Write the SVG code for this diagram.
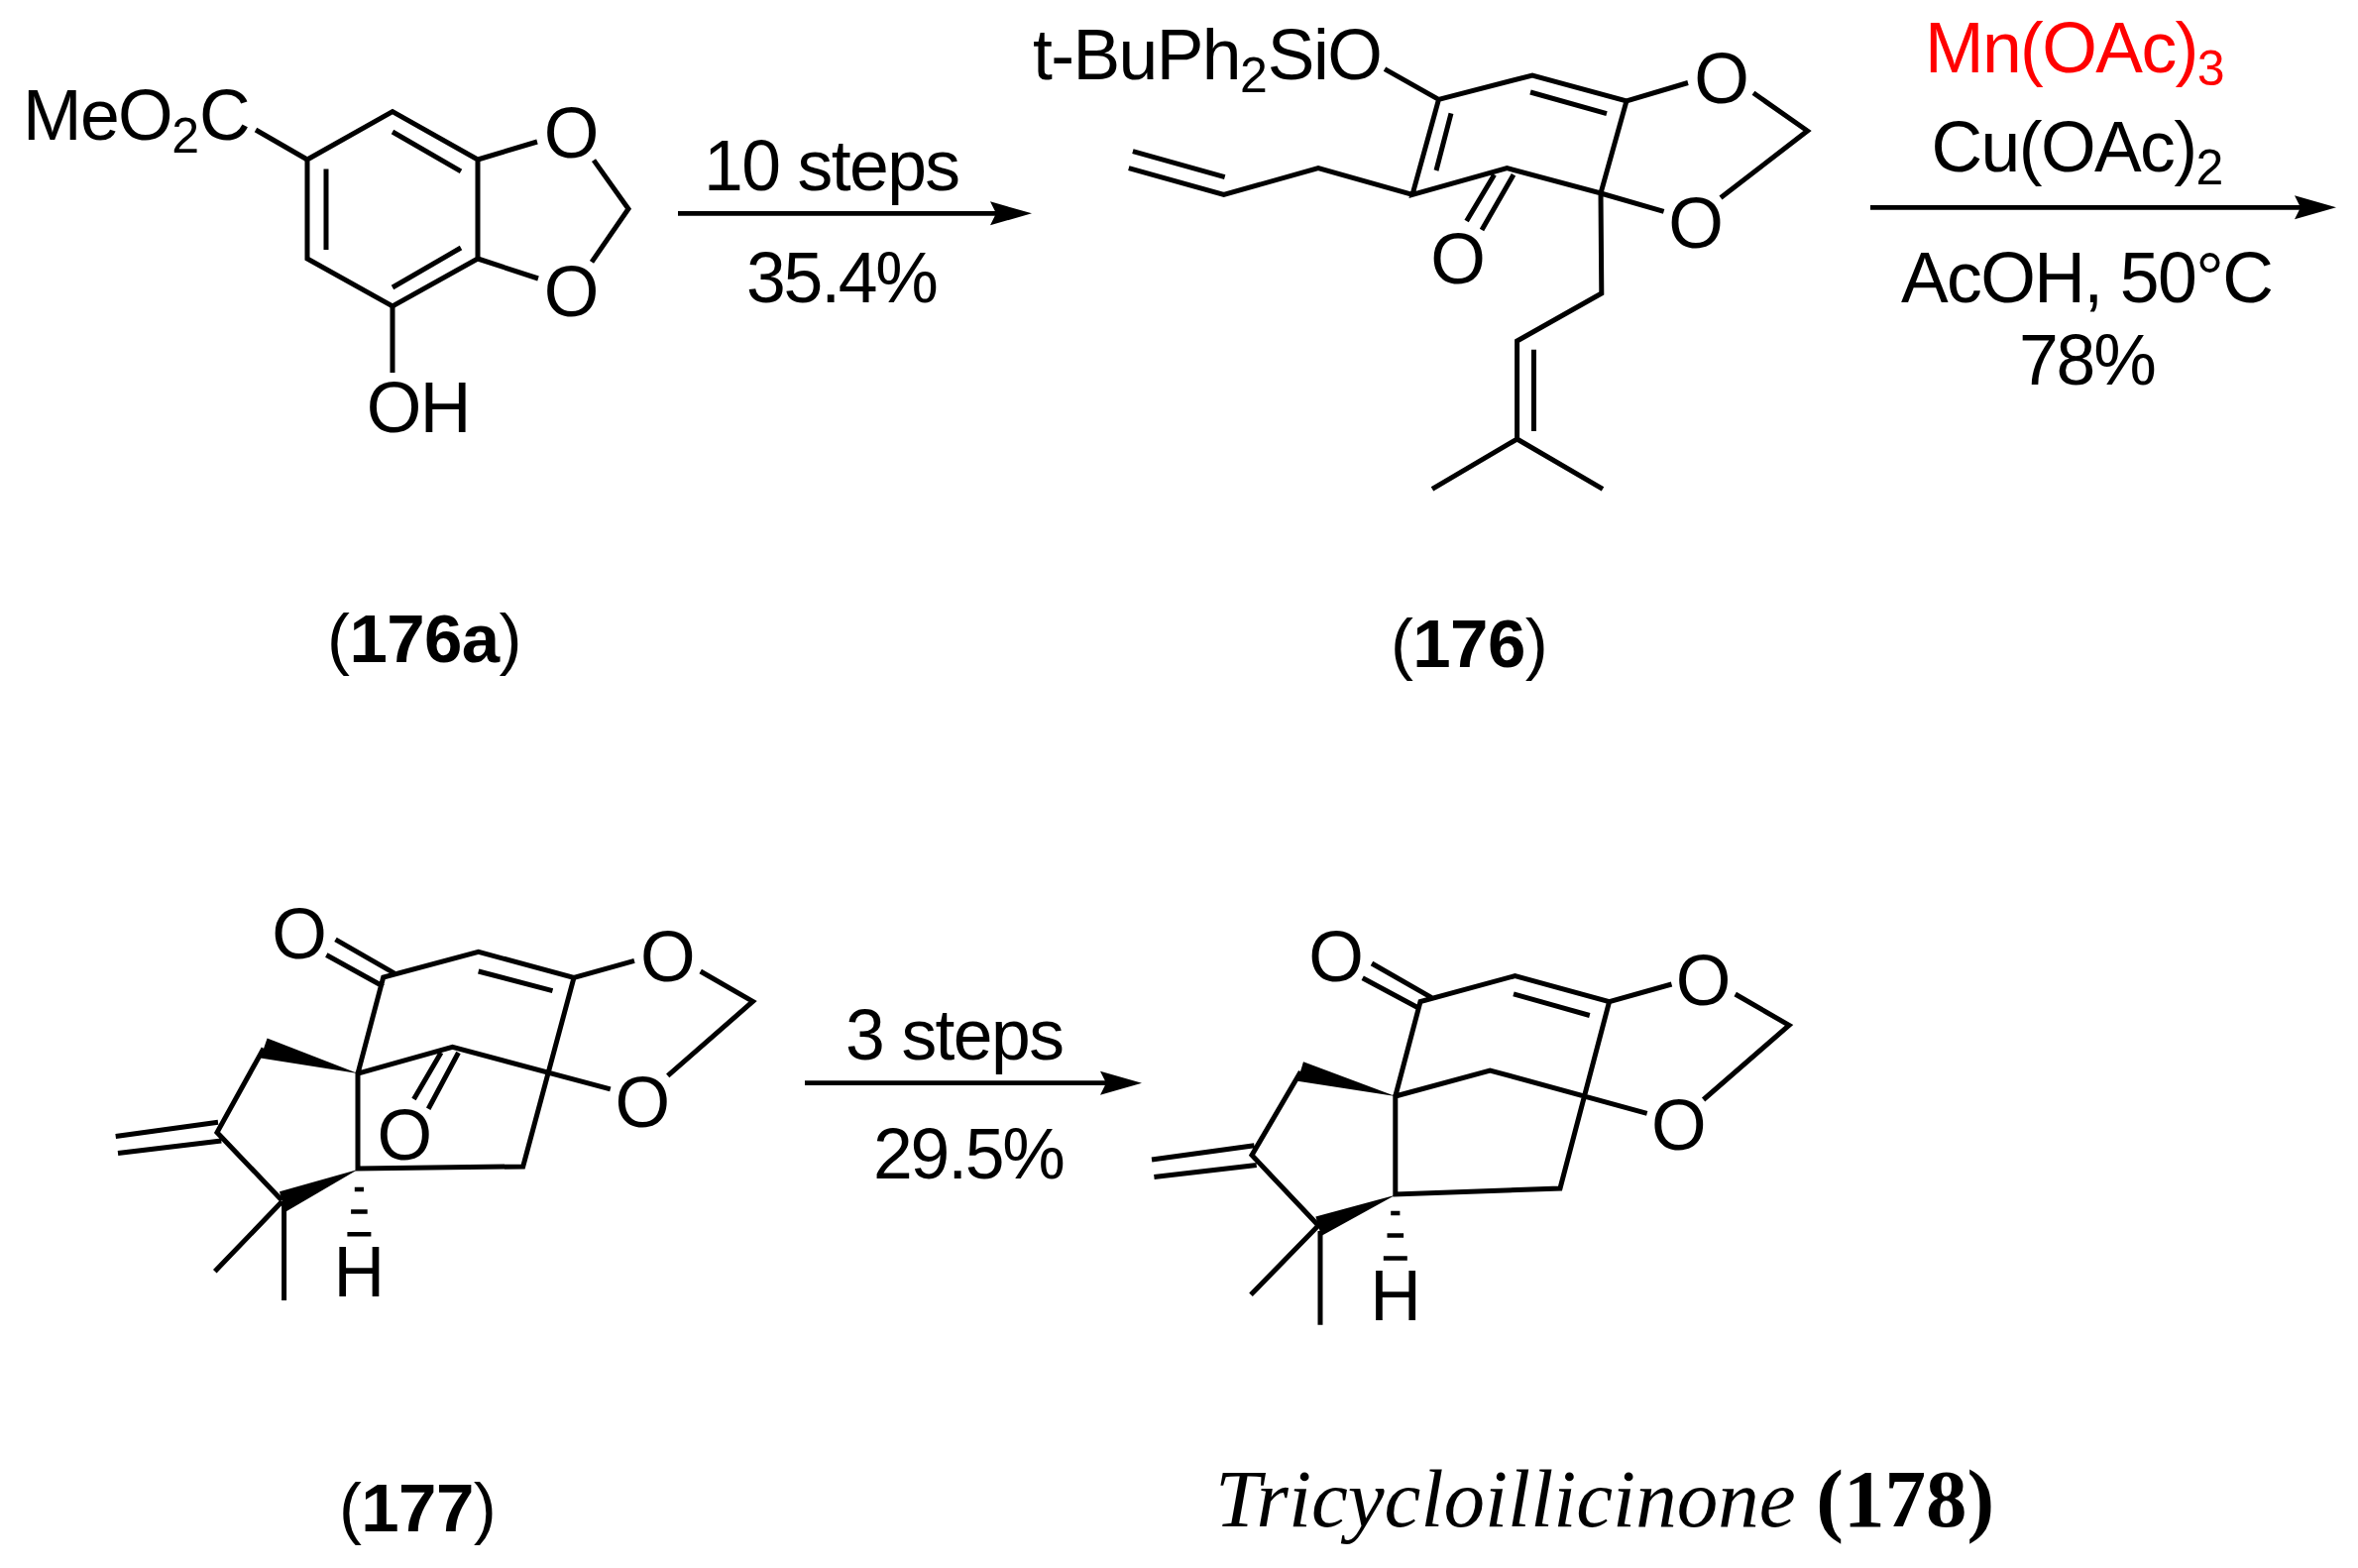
<svg xmlns="http://www.w3.org/2000/svg" width="2379" height="1582" viewBox="0 0 2379 1582">
<style>
text{font-family:"Liberation Sans",Arial,sans-serif;font-size:71.5px;letter-spacing:-1.6px;fill:#000}
.m{text-anchor:middle;letter-spacing:0}
.l{text-anchor:middle;font-size:69px;letter-spacing:-.6px}
.p{letter-spacing:-2.2px}
.b{font-weight:bold}
.s{font-size:50px;letter-spacing:0}
.red,.red tspan{fill:#f00}
.bond{fill:none;stroke:#000;stroke-width:5;stroke-linejoin:miter}
.hash{fill:none;stroke:#000;stroke-width:4.5}
.arrow{fill:none;stroke:#000;stroke-width:4.7;marker-end:url(#head)}
.serif{font-family:"Liberation Serif","Times New Roman",serif;font-size:83px;letter-spacing:0}
</style>
<defs>
<marker id="head" markerUnits="userSpaceOnUse" viewBox="0 -13 42 26" refX="6" refY="0" markerWidth="42" markerHeight="26" orient="auto">
<path d="M0,-12 L42,0 L0,12 L6,0 Z" fill="#000"/>
</marker>
</defs>
<rect width="2379" height="1582" fill="#fff"/>

<g id="connectors">
<line class="arrow" x1="684" y1="215.3" x2="1005" y2="215.3"/>
<line class="arrow" x1="1887" y1="209.3" x2="2321" y2="209.3"/>
<line class="arrow" x1="812" y1="1092.7" x2="1116" y2="1092.7"/>
</g>

<g id="conditions-1">
<text x="710" y="191.5">10 steps</text>
<text class="p" x="753" y="304.5">35.4%</text>
</g>
<g id="conditions-2">
<text class="red" x="1942" y="72.5">Mn(OAc)<tspan class="s" dy="13">3</tspan></text>
<text x="1948.5" y="172.5">Cu(OAc)<tspan class="s" dy="13">2</tspan></text>
<text x="1918" y="304.5">AcOH, 50°C</text>
<text class="p" x="2037" y="387.5">78%</text>
</g>
<g id="conditions-3">
<text x="853" y="1068.5">3 steps</text>
<text class="p" x="881" y="1188.5">29.5%</text>
</g>

<g id="compound-176a">
<polygon class="bond" points="310,161 396,112.5 482,161 482,261 396,309 310,261"/>
<path class="bond" d="M396,133L465,172.8M329,170.5V252M396,290L465,250M258,131L310,161M482,161L542,143M482,261L543,281M599,161.6L634,210.7L597,264.3M396,309V376"/>
<text x="23" y="140.5">MeO<tspan class="s" dy="13.5">2</tspan><tspan dy="-13.5" style="font-size:71.5px">C</tspan></text>
<text class="m" x="576.5" y="159">O</text>
<text class="m" x="576.5" y="318.5">O</text>
<text x="369.7" y="435.5">OH</text>
<text class="l" x="428" y="667.5">(<tspan class="b">176a</tspan>)</text>
</g>

<g id="compound-176">
<path class="bond" d="M1397,69.6L1451.5,100.4L1546,76L1641,101.8L1703,83.5M1451.5,100.4L1425,196.4L1520.4,169.6L1615,195L1641,101.8M1615,195L1678.6,213.4M1769,93.8L1823.5,132L1736,199.6M1464,114.3L1449,172M1544,93L1621,114.7M1507.6,176.3L1479.6,223M1527,176.3L1495,232M1425,196.4L1330,169.6L1234.7,196.4L1138.8,169.6M1142.9,152.7L1235.7,178.6M1615,195L1615.8,296L1530.6,344V443M1547.5,352.7V435M1445,493.3L1530.6,443L1617,493.3"/>
<text x="1042" y="79.5">t-BuPh<tspan class="s" dy="13">2</tspan><tspan dy="-13">SiO</tspan></text>
<text class="m" x="1737" y="103.5">O</text>
<text class="m" x="1711" y="249.5">O</text>
<text class="m" x="1471" y="285.5">O</text>
<text class="l" x="1482" y="672.5">(<tspan class="b">176</tspan>)</text>
</g>

<g id="compound-177">
<path class="bond" d="M338.5,947.9L397.7,981.8M329.3,963.5L386.7,995.2M361,1083.1L386.7,986L482.7,960.4L579,986.3L640,969.3M482.7,980L557.5,999.6M579,986.3L527.7,1176.9L361,1179V1083.1L456.5,1056.3L615.8,1098.8M706.7,980L759.5,1010.4L673.7,1085.4M445,1062L417.5,1109M462.5,1062L432.2,1118.8M266,1057.7L219,1142.5L284.3,1211M220,1132.2L116.7,1146.5M223.3,1151L119,1163.5M284.3,1212.6L216.8,1282.7M286.6,1212V1312"/>
<polygon points="361,1083 269.6,1047.4 262.7,1067.5"/>
<polygon points="361,1180 282,1202.3 287.5,1222.9"/>
<path class="hash" d="M357.8,1200h9.2M354.1,1222.4h16.6M350.4,1245.2h24"/>
<text class="m" x="362.4" y="1308">H</text>
<text class="m" x="302" y="966.5">O</text>
<text class="m" x="673.7" y="989.5">O</text>
<text class="m" x="648.4" y="1136.5">O</text>
<text class="m" x="408.3" y="1169.5">O</text>
<text class="l" x="421" y="1544.5">(<tspan class="b">177</tspan>)</text>
</g>

<g id="compound-178">
<path class="bond" d="M1384,972L1444.5,1006.7M1374.7,986.7L1433,1018M1407.8,1106L1433,1010.6L1528.5,984.6L1623.6,1010.6L1686.5,993M1527,1002.8L1603.8,1024.5M1623.6,1010.6L1574,1199L1407.8,1204.9V1106L1503.3,1080L1661.7,1123.3M1750.7,1003L1805,1034.4L1718.6,1109.5M1312.3,1081.3L1263,1165.4L1329.7,1236M1265.4,1155.8L1162,1170M1267.7,1175.4L1164.4,1187.5M1330.6,1236L1262,1306.3M1332,1242V1336.7"/>
<polygon points="1407.8,1106 1315,1071.3 1309,1090.8"/>
<polygon points="1407.8,1205.7 1327.4,1227.4 1333,1247"/>
<path class="hash" d="M1403.2,1224h9.2M1399.5,1246.5h16.6M1395.8,1269.5h24"/>
<text class="m" x="1408" y="1331.5">H</text>
<text class="m" x="1348" y="989.5">O</text>
<text class="m" x="1718.6" y="1013.5">O</text>
<text class="m" x="1693.8" y="1159.5">O</text>
<text class="serif" x="1226" y="1540"><tspan font-style="italic">Tricycloillicinone</tspan> <tspan font-weight="bold">(178)</tspan></text>
</g>
</svg>
